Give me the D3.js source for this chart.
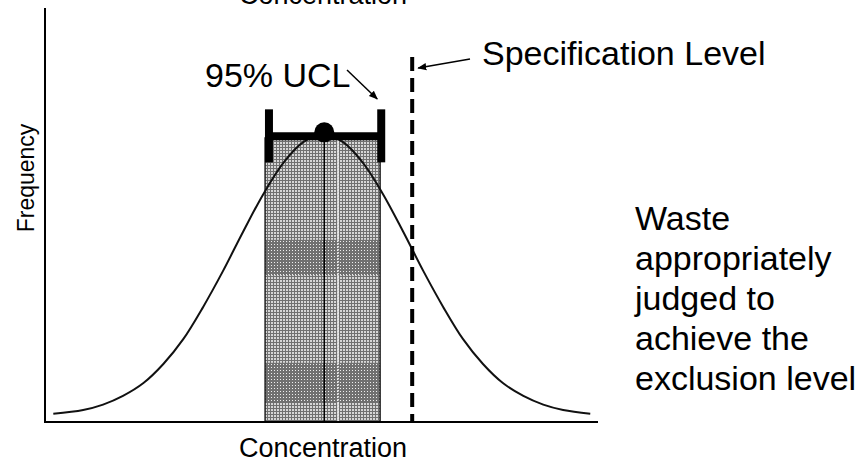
<!DOCTYPE html>
<html>
<head>
<meta charset="utf-8">
<script src="https://cdn.jsdelivr.net/npm/d3@7"></script>
<style>
  body { margin: 0; background: #fff; }
  text { font-family: "Liberation Sans", Arial, sans-serif; fill: #000; }
</style>
</head>
<body>
<div id="chart"></div>
<script>
// curve (concentration, frequency)
var curveConc = [1.5, 6.9, 10.5, 14.1, 17.8, 21.4, 25.0, 28.6, 32.2, 35.8, 39.5, 43.1, 46.7, 50.3,
                 53.9, 57.5, 61.1, 64.8, 68.4, 72.0, 75.6, 79.2, 82.8, 86.5, 90.1, 93.7, 98.6];
var curveFreq = [2.0, 2.9, 4.2, 6.3, 9.4, 14.0, 20.0, 27.8, 36.5, 45.9, 55.1, 62.6, 67.6, 69.3,
                 67.6, 62.6, 55.1, 45.9, 36.5, 27.8, 20.0, 14.0, 9.4, 6.3, 4.2, 2.9, 2.0];

// bar of the sample
var barConc = [39.8, 60.6];
var barFreq = 68.6;
var barBands = [[35.5, 44.0], [4.8, 14.3]];
var barMid = 50.5;
var barDotted = 53.0;

// mean and confidence limits
var uclMean = 50.5;
var uclLimits = [40.5, 60.8];
var uclFreq = 69.0;

var specLevel = 66.4;

var xTitle = "Concentration";
var yTitle = "Frequency";
var uclLabel = "95% UCL";
var specLabel = "Specification Level";
var noteLines = ["Waste", "appropriately", "judged to", "achieve the", "exclusion level"];

var width = 865, height = 462;

var svg = d3.select("#chart")
  .append("svg")
  .attr("width", width)
  .attr("height", height);

var x = d3.scaleLinear().domain([0, 100]).range([45, 598]);
var y = d3.scaleLinear().domain([0, 100]).range([422, 8]);

var defs = svg.append("defs");

// grid texture of the bar
var grid = defs.append("pattern")
  .attr("id", "grid")
  .attr("patternUnits", "userSpaceOnUse")
  .attr("width", 3).attr("height", 3);
grid.append("rect").attr("width", 3).attr("height", 3).attr("fill", "#d6d6d6");
grid.append("rect").attr("width", 3).attr("height", 1).attr("fill", "#707070");
grid.append("rect").attr("width", 1).attr("height", 3).attr("fill", "#707070");

// darker dotted texture
var dots = defs.append("pattern")
  .attr("id", "dots")
  .attr("patternUnits", "userSpaceOnUse")
  .attr("width", 3).attr("height", 3);
dots.append("rect").attr("width", 3).attr("height", 3).attr("fill", "#707070");
dots.append("rect").attr("x", 1).attr("y", 1).attr("width", 1).attr("height", 1).attr("fill", "#eeeeee");

var arrow = defs.append("marker")
  .attr("id", "arrow")
  .attr("viewBox", "0 0 10 10")
  .attr("refX", 9).attr("refY", 5)
  .attr("markerWidth", 9).attr("markerHeight", 9)
  .attr("markerUnits", "userSpaceOnUse")
  .attr("orient", "auto");
arrow.append("path").attr("d", "M0,1 L10,5 L0,9 Z").attr("fill", "#000");

// bar
svg.append("rect")
  .attr("x", x(barConc[0]))
  .attr("y", y(barFreq))
  .attr("width", x(barConc[1]) - x(barConc[0]))
  .attr("height", y(0) - y(barFreq))
  .attr("fill", "url(#grid)");

svg.selectAll(".band")
  .data(barBands)
  .enter().append("rect")
  .attr("class", "band")
  .attr("x", x(barConc[0]))
  .attr("y", function (d) { return y(d[1]); })
  .attr("width", x(barConc[1]) - x(barConc[0]))
  .attr("height", function (d) { return y(d[0]) - y(d[1]); })
  .attr("fill", "url(#dots)");

svg.append("rect")
  .attr("x", x(barConc[0]))
  .attr("y", y(barFreq))
  .attr("width", x(barConc[1]) - x(barConc[0]))
  .attr("height", y(0) - y(barFreq))
  .attr("fill", "none")
  .attr("stroke", "#222")
  .attr("stroke-width", 1.5);

svg.append("line")
  .attr("x1", x(barDotted)).attr("x2", x(barDotted))
  .attr("y1", y(barFreq)).attr("y2", y(0))
  .attr("stroke", "#fff")
  .attr("stroke-width", 1.5)
  .attr("stroke-dasharray", "1.5,1.5");

svg.append("line")
  .attr("x1", x(barMid)).attr("x2", x(barMid))
  .attr("y1", y(barFreq)).attr("y2", y(0))
  .attr("stroke", "#000")
  .attr("stroke-width", 1.5);

// normal curve
var line = d3.line()
  .x(function (d, i) { return x(curveConc[i]); })
  .y(function (d) { return y(d); })
  .curve(d3.curveCatmullRom);

svg.append("path")
  .attr("d", line(curveFreq))
  .attr("fill", "none")
  .attr("stroke", "#111")
  .attr("stroke-width", 2);

// axes (plain lines, no ticks)
svg.append("line")
  .attr("x1", x(0)).attr("x2", x(0))
  .attr("y1", y(100)).attr("y2", y(0))
  .attr("stroke", "#000").attr("stroke-width", 2);
svg.append("line")
  .attr("x1", x(0) - 1).attr("x2", x(100))
  .attr("y1", y(0)).attr("y2", y(0))
  .attr("stroke", "#000").attr("stroke-width", 2);

// specification level
svg.append("line")
  .attr("x1", x(specLevel)).attr("x2", x(specLevel))
  .attr("y1", 57).attr("y2", y(0))
  .attr("stroke", "#000")
  .attr("stroke-width", 4)
  .attr("stroke-dasharray", "14,7");

// error bar with mean
svg.append("line")
  .attr("x1", x(uclLimits[0])).attr("x2", x(uclLimits[1]))
  .attr("y1", y(uclFreq)).attr("y2", y(uclFreq))
  .attr("stroke", "#000").attr("stroke-width", 8);

svg.selectAll(".cap")
  .data(uclLimits)
  .enter().append("line")
  .attr("class", "cap")
  .attr("x1", function (d) { return x(d); })
  .attr("x2", function (d) { return x(d); })
  .attr("y1", y(uclFreq) - 27)
  .attr("y2", y(uclFreq) + 26)
  .attr("stroke", "#000").attr("stroke-width", 8);

svg.append("circle")
  .attr("cx", x(uclMean))
  .attr("cy", y(uclFreq) - 4)
  .attr("r", 10)
  .attr("fill", "#000");

// labels (the top title is cut off by the edge, as in the source)
svg.append("text")
  .attr("x", 323).attr("y", 4)
  .attr("text-anchor", "middle")
  .style("font-size", "27px")
  .text(xTitle);

svg.append("text")
  .attr("x", 323).attr("y", 457)
  .attr("text-anchor", "middle")
  .style("font-size", "27px")
  .text(xTitle);

svg.append("text")
  .attr("transform", "translate(34,178) rotate(-90)")
  .attr("text-anchor", "middle")
  .style("font-size", "23px")
  .text(yTitle);

svg.append("text")
  .attr("x", 205).attr("y", 87)
  .style("font-size", "34px")
  .text(uclLabel);

svg.append("line")
  .attr("x1", 347).attr("y1", 70)
  .attr("x2", x(uclLimits[1]) - 4).attr("y2", 99)
  .attr("stroke", "#000").attr("stroke-width", 1.5)
  .attr("marker-end", "url(#arrow)");

svg.append("text")
  .attr("x", 482).attr("y", 65)
  .style("font-size", "34px")
  .text(specLabel);

svg.append("line")
  .attr("x1", 470).attr("y1", 59)
  .attr("x2", x(specLevel) + 6).attr("y2", 68)
  .attr("stroke", "#000").attr("stroke-width", 1.5)
  .attr("marker-end", "url(#arrow)");

svg.append("text")
  .attr("x", 635).attr("y", 230)
  .style("font-size", "34px")
  .selectAll("tspan")
  .data(noteLines)
  .enter().append("tspan")
  .attr("x", 635)
  .attr("dy", function (d, i) { return i === 0 ? 0 : 40; })
  .text(function (d) { return d; });
</script>
</body>
</html>
